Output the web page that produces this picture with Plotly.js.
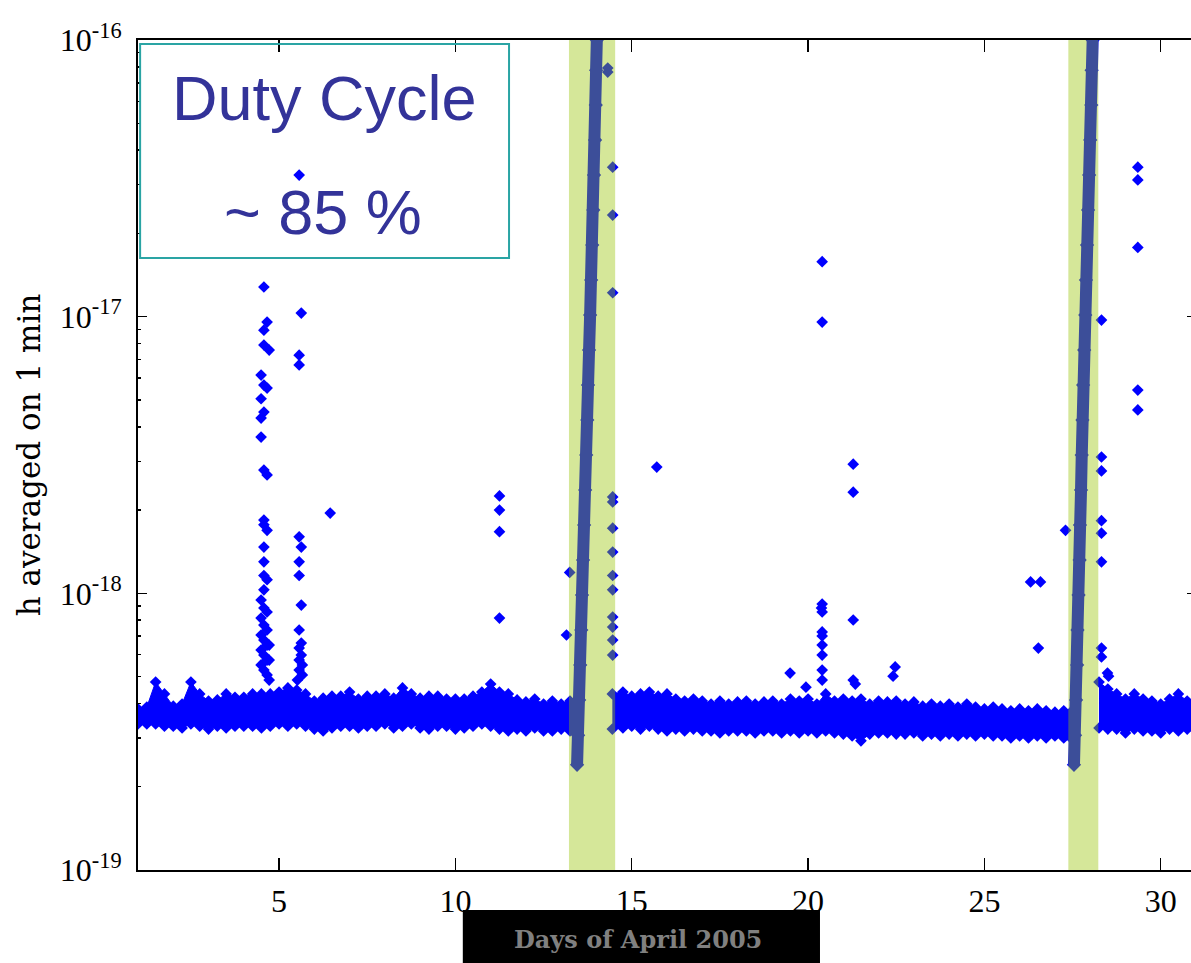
<!DOCTYPE html>
<html><head><meta charset="utf-8">
<script src="https://cdn.plot.ly/plotly-3.0.1.min.js"></script>
<style>html,body{margin:0;padding:0;overflow:hidden;background:#fff}#chart{width:1196px;height:963px}</style>
</head><body><div id="chart"></div>
<script>
// ---- Baseline noise band (upper / lower envelope of the 1-min averages) ----
const segADays = [1.0,1.25,1.5,1.75,2.0,2.25,2.5,2.75,3.0,3.25,3.5,3.75,4.0,4.25,4.5,4.75,5.0,5.25,5.5,5.75,6.0,6.25,6.5,6.75,7.0,7.25,7.5,7.75,8.0,8.25,8.5,8.75,9.0,9.25,9.5,9.75,10.0,10.25,10.5,10.75,11.0,11.25,11.5,11.75,12.0,12.25,12.5,12.75,13.0,13.25,13.35];
const segAUpper = [3.82e-19,3.88e-19,4.78e-19,4.33e-19,3.91e-19,3.98e-19,4.78e-19,4.33e-19,4.08e-19,4.12e-19,4.33e-19,4.21e-19,4.21e-19,4.33e-19,4.33e-19,4.33e-19,4.40e-19,4.55e-19,4.47e-19,4.33e-19,4.08e-19,4.18e-19,4.25e-19,4.25e-19,4.40e-19,4.15e-19,4.25e-19,4.25e-19,4.33e-19,4.18e-19,4.55e-19,4.33e-19,4.18e-19,4.25e-19,4.25e-19,4.15e-19,4.15e-19,4.15e-19,4.25e-19,4.40e-19,4.70e-19,4.40e-19,4.33e-19,4.12e-19,4.05e-19,4.15e-19,3.98e-19,4.08e-19,3.98e-19,4.08e-19,3.98e-19];
const segALower = [3.37e-19,3.37e-19,3.37e-19,3.31e-19,3.31e-19,3.26e-19,3.37e-19,3.31e-19,3.23e-19,3.31e-19,3.26e-19,3.31e-19,3.31e-19,3.31e-19,3.26e-19,3.31e-19,3.37e-19,3.31e-19,3.37e-19,3.31e-19,3.23e-19,3.18e-19,3.26e-19,3.31e-19,3.31e-19,3.26e-19,3.31e-19,3.31e-19,3.37e-19,3.26e-19,3.31e-19,3.37e-19,3.26e-19,3.23e-19,3.31e-19,3.31e-19,3.23e-19,3.26e-19,3.31e-19,3.37e-19,3.31e-19,3.23e-19,3.18e-19,3.23e-19,3.18e-19,3.26e-19,3.18e-19,3.18e-19,3.23e-19,3.18e-19,3.18e-19];

const segBDays = [14.45,14.75,15.0,15.25,15.5,15.75,16.0,16.25,16.5,16.75,17.0,17.25,17.5,17.75,18.0,18.25,18.5,18.75,19.0,19.25,19.5,19.75,20.0,20.25,20.5,20.75,21.0,21.25,21.5,21.75,22.0,22.25,22.5,22.75,23.0,23.25,23.5,23.75,24.0,24.25,24.5,24.75,25.0,25.25,25.5,25.75,26.0,26.25,26.5,26.75,27.0,27.25,27.45];
const segBUpper = [4.33e-19,4.40e-19,4.25e-19,4.33e-19,4.40e-19,4.25e-19,4.33e-19,4.15e-19,4.08e-19,4.15e-19,4.08e-19,3.98e-19,4.08e-19,3.98e-19,4.05e-19,4.08e-19,3.98e-19,4.05e-19,4.08e-19,3.98e-19,4.15e-19,4.08e-19,4.15e-19,3.98e-19,4.33e-19,4.08e-19,4.15e-19,4.08e-19,4.15e-19,3.98e-19,4.08e-19,4.05e-19,4.08e-19,3.98e-19,4.05e-19,3.91e-19,3.98e-19,3.91e-19,3.98e-19,3.88e-19,3.98e-19,3.88e-19,3.82e-19,3.88e-19,3.82e-19,3.76e-19,3.82e-19,3.76e-19,3.82e-19,3.76e-19,3.72e-19,3.76e-19,3.72e-19];
const segBLower = [3.23e-19,3.26e-19,3.31e-19,3.23e-19,3.31e-19,3.23e-19,3.18e-19,3.23e-19,3.18e-19,3.23e-19,3.18e-19,3.18e-19,3.13e-19,3.18e-19,3.18e-19,3.18e-19,3.13e-19,3.18e-19,3.18e-19,3.13e-19,3.18e-19,3.13e-19,3.18e-19,3.13e-19,3.18e-19,3.13e-19,3.10e-19,3.05e-19,2.93e-19,3.10e-19,3.13e-19,3.13e-19,3.10e-19,3.10e-19,3.13e-19,3.05e-19,3.10e-19,3.05e-19,3.10e-19,3.05e-19,3.10e-19,3.05e-19,3.10e-19,3.05e-19,3.05e-19,3.00e-19,3.05e-19,3.00e-19,3.05e-19,3.00e-19,3.05e-19,3.00e-19,3.00e-19];

const segCDays = [28.25,28.5,28.75,29.0,29.25,29.5,29.75,30.0,30.25,30.5,30.75,31.0];
const segCUpper = [4.78e-19,4.51e-19,4.33e-19,4.15e-19,4.33e-19,4.15e-19,4.08e-19,3.98e-19,4.15e-19,4.33e-19,4.08e-19,3.98e-19];
const segCLower = [3.26e-19,3.23e-19,3.23e-19,3.13e-19,3.23e-19,3.18e-19,3.18e-19,3.13e-19,3.23e-19,3.18e-19,3.23e-19,3.18e-19];

// ---- Calibration ramps (green periods) ----
const ramp1Days = [13.45,13.48,13.51,13.54,13.57,13.59,13.62,13.65,13.68,13.71,13.74,13.76,13.79,13.82,13.85,13.88,13.91,13.93,13.96,13.98,13.99,14.01];
const ramp1Vals = [2.40e-19,3.07e-19,4.12e-19,5.51e-19,7.37e-19,9.86e-19,1.319e-18,1.765e-18,2.362e-18,3.16e-18,4.23e-18,5.66e-18,7.57e-18,1.013e-17,1.356e-17,1.815e-17,2.43e-17,3.25e-17,4.35e-17,5.82e-17,7.78e-17,1.0e-16];
const ramp2Days = [27.54,27.57,27.60,27.63,27.64,27.67,27.70,27.71,27.74,27.76,27.78,27.80,27.83,27.86,27.88,27.91,27.94,27.97,28.00,28.03,28.04,28.07];
const ramp2Vals = [2.40e-19,3.07e-19,4.12e-19,5.51e-19,7.37e-19,9.86e-19,1.319e-18,1.765e-18,2.362e-18,3.16e-18,4.23e-18,5.66e-18,7.57e-18,1.013e-17,1.356e-17,1.815e-17,2.43e-17,3.25e-17,4.35e-17,5.82e-17,7.78e-17,1.0e-16];

// ---- Isolated glitches / outliers ----
const outlierDays = [
 4.57,4.66,4.57,4.57,4.72,4.49,4.57,4.66,4.49,4.57,4.49,4.49,4.57,4.66,4.57,4.57,4.66,4.57,4.57,4.57,4.66,4.57,4.49,4.57,4.66,4.49,4.57,4.66,4.49,4.57,4.66,4.49,4.57,4.66,4.49,4.57,4.66,4.72,4.72,4.72,
 5.57,5.63,5.57,5.57,5.57,5.63,5.57,5.57,5.63,5.57,5.63,5.57,5.63,5.57,5.66,5.57,5.66,5.52,
 6.45,11.25,11.25,11.25,11.25,13.24,13.15,
 14.32,14.32,14.46,14.46,14.46,14.46,14.46,14.46,14.46,14.46,14.46,14.46,14.46,14.46,14.46,
 15.71,19.49,19.94,
 20.40,20.40,20.40,20.38,20.40,20.40,20.40,20.40,20.40,20.40,20.40,
 21.28,21.28,21.28,21.28,21.34,22.47,22.41,
 26.31,26.59,26.53,27.30,
 28.32,28.32,28.32,28.32,28.32,28.32,28.32,28.32,28.49,28.52,
 29.35,29.35,29.35,29.35,29.35];
const outlierVals = [
 1.28e-17,9.56e-18,8.94e-18,7.90e-18,7.57e-18,6.15e-18,5.66e-18,5.52e-18,5.05e-18,4.52e-18,4.30e-18,3.67e-18,2.79e-18,2.68e-18,1.84e-18,1.77e-18,1.69e-18,1.47e-18,1.30e-18,1.16e-18,1.12e-18,1.03e-18,9.46e-19,8.85e-19,8.56e-19,8.14e-19,7.68e-19,7.37e-19,7.07e-19,6.78e-19,6.50e-19,6.24e-19,5.98e-19,5.74e-19,5.51e-19,5.28e-19,5.07e-19,4.86e-19,5.74e-19,6.50e-19,
 3.25e-17,1.03e-17,7.26e-18,6.69e-18,1.60e-18,1.47e-18,1.30e-18,1.16e-18,9.07e-19,7.37e-19,6.61e-19,6.34e-19,5.98e-19,5.74e-19,5.51e-19,5.28e-19,5.07e-19,4.86e-19,
 1.95e-18,2.25e-18,2.00e-18,1.67e-18,8.14e-19,1.19e-18,7.07e-19,
 7.92e-17,7.66e-17,3.47e-17,2.33e-17,1.22e-17,2.23e-18,2.14e-18,1.72e-18,1.41e-18,1.16e-18,1.03e-18,8.21e-19,7.55e-19,6.78e-19,5.98e-19,
 2.86e-18,5.15e-19,4.58e-19,
 1.58e-17,9.56e-18,9.15e-19,8.85e-19,8.56e-19,7.25e-19,7.01e-19,6.50e-19,5.98e-19,5.28e-19,4.86e-19,
 2.93e-18,2.32e-18,8.01e-19,4.86e-19,4.70e-19,5.42e-19,5.02e-19,
 1.10e-18,1.10e-18,6.34e-19,1.69e-18,
 9.72e-18,3.11e-18,2.77e-18,1.83e-18,1.65e-18,1.30e-18,6.34e-19,5.89e-19,5.15e-19,5.02e-19,
 3.47e-17,3.12e-17,1.78e-17,5.43e-18,4.60e-18];

// ---- Green (calibration) periods, in days ----
const greenStart = [13.22, 27.38];
const greenEnd = [14.53, 28.23];

// ---- Axes / text ----
const xTickVals = [5, 10, 15, 20, 25, 30];
const yTickVals = [1e-19, 1e-18, 1e-17, 1e-16];
const yTickText = ['10<sup>-19</sup>', '10<sup>-18</sup>', '10<sup>-17</sup>', '10<sup>-16</sup>'];
const xTitle = 'Days of April 2005';
const yTitle = 'h averaged on 1 min';
const boxLines = ['Duty Cycle', '~ 85 %'];

const BLUE = '#0000ff';
const mk = {symbol: 'diamond', size: 9, color: BLUE};

const traces = [];
function band(days, up, lo) {
  traces.push({x: days, y: up, type: 'scatter', mode: 'lines+markers', marker: mk,
               line: {width: 1, color: BLUE}, hoverinfo: 'skip'});
  traces.push({x: days, y: lo, type: 'scatter', mode: 'lines+markers', marker: mk,
               line: {width: 1, color: BLUE}, fill: 'tonexty', fillcolor: BLUE, hoverinfo: 'skip'});
}
band(segADays, segAUpper, segALower);
band(segBDays, segBUpper, segBLower);
band(segCDays, segCUpper, segCLower);
traces.push({x: ramp1Days, y: ramp1Vals, type: 'scatter', mode: 'lines+markers', line: {color: BLUE, width: 12}, marker: {symbol: 'diamond', size: 11, color: BLUE}});
traces.push({x: ramp2Days, y: ramp2Vals, type: 'scatter', mode: 'lines+markers', line: {color: BLUE, width: 12}, marker: {symbol: 'diamond', size: 11, color: BLUE}});
traces.push({x: outlierDays, y: outlierVals, type: 'scatter', mode: 'markers', marker: mk});

const minorVals = [];
for (let e = -19; e < -16; e++) for (let m = 2; m <= 9; m++) minorVals.push(m * Math.pow(10, e));

const shapes = greenStart.map((s, i) => ({
  type: 'rect', xref: 'x', yref: 'paper', x0: s, x1: greenEnd[i], y0: 0, y1: 1,
  fillcolor: 'rgba(150,196,0,0.4)', line: {width: 0}, layer: 'above'
}));
// Duty-cycle frame
shapes.push({type: 'rect', xref: 'paper', yref: 'paper', x0: 0.002, x1: 0.3507, y0: 0.7373, y1: 0.9952,
  line: {color: '#2aa4a4', width: 2}, fillcolor: 'rgba(0,0,0,0)', layer: 'above'});
// Black strip behind the x title
shapes.push({type: 'rect', xref: 'paper', yref: 'paper', x0: 0.307, x1: 0.6446, y0: -0.13, y1: -0.0482,
  line: {width: 0}, fillcolor: '#000000', layer: 'above'});

const layout = {
  width: 1196, height: 963,
  margin: {l: 138, r: 0, t: 40, b: 93},
  paper_bgcolor: '#ffffff', plot_bgcolor: '#ffffff',
  showlegend: false,
  xaxis: {
    range: [1, 31], tickvals: xTickVals, ticks: 'inside', ticklen: 12, tickwidth: 1.5, tickcolor: '#000',
    showline: true, linecolor: '#000', linewidth: 2, mirror: 'ticks', showgrid: false, zeroline: false,
    tickfont: {family: 'Liberation Serif', size: 32, color: '#000'}, ticklabelstandoff: 2
  },
  yaxis: {
    type: 'log', range: [-19, -16], tickvals: yTickVals, ticktext: yTickText,
    ticks: 'inside', ticklen: 9, tickwidth: 1.5, tickcolor: '#000',
    minor: {tickvals: minorVals, ticks: 'inside', ticklen: 3, tickwidth: 1.5, tickcolor: '#000', showgrid: false},
    showline: true, linecolor: '#000', linewidth: 2, mirror: 'ticks', showgrid: false, zeroline: false,
    tickfont: {family: 'Liberation Serif', size: 32, color: '#000'}, ticklabelstandoff: 8,
    title: {text: yTitle, font: {family: 'DejaVu Serif', size: 31, color: '#000'}, standoff: 10}
  },
  shapes: shapes,
  annotations: [
    {text: boxLines[0], xref: 'paper', yref: 'paper', x: 0.1767, y: 0.930, xanchor: 'center', yanchor: 'middle',
     showarrow: false, font: {family: 'Liberation Sans', size: 63, color: '#333399'}},
    {text: boxLines[1], xref: 'paper', yref: 'paper', x: 0.1753, y: 0.793, xanchor: 'center', yanchor: 'middle',
     showarrow: false, font: {family: 'Liberation Sans', size: 63, color: '#333399'}},
    {text: '<b>' + xTitle + '</b>', xref: 'paper', yref: 'paper', x: 0.4725, y: -0.0843, xanchor: 'center', yanchor: 'middle',
     showarrow: false, font: {family: 'DejaVu Serif', size: 24, color: '#808080'}}
  ]
};

Plotly.newPlot('chart', traces, layout, {displayModeBar: false, staticPlot: true});
</script></body></html>
